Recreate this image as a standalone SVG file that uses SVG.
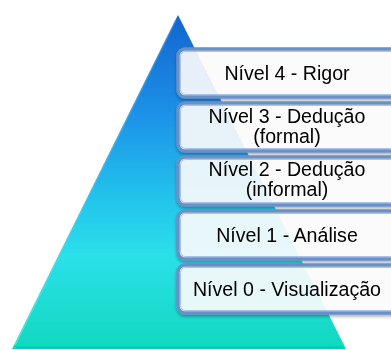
<svg xmlns="http://www.w3.org/2000/svg" width="391" height="350" viewBox="0 0 391 350">
  <defs>
    <linearGradient id="triGrad" x1="0" y1="15" x2="0" y2="349" gradientUnits="userSpaceOnUse">
      <stop offset="0" stop-color="#1464cf"/>
      <stop offset="0.3" stop-color="#1c92e8"/>
      <stop offset="0.55" stop-color="#22c4ec"/>
      <stop offset="0.72" stop-color="#2ae0ea"/>
      <stop offset="1" stop-color="#12d8be"/>
    </linearGradient>
    <linearGradient id="edgeGrad" x1="0" y1="15" x2="0" y2="349" gradientUnits="userSpaceOnUse">
      <stop offset="0" stop-color="#3b8fe6"/>
      <stop offset="1" stop-color="#5ff0dd"/>
    </linearGradient>
    <filter id="shadow" x="-10%" y="-20%" width="130%" height="150%">
      <feGaussianBlur in="SourceAlpha" stdDeviation="1.5"/>
      <feOffset dx="0" dy="1.5" result="b"/>
      <feComponentTransfer><feFuncA type="linear" slope="0.3"/></feComponentTransfer>
      <feMerge><feMergeNode/><feMergeNode in="SourceGraphic"/></feMerge>
    </filter>
  </defs>
  <style>
    .box { fill: #ffffff; fill-opacity: 0.88; stroke: #6a90c6; stroke-width: 3.5; }
    .inner { fill: none; stroke: #a9c2e6; stroke-width: 1; }
    .lbl { font-family: "Liberation Sans", Arial, sans-serif; font-size: 19.6px; fill: #000000; text-anchor: middle; }
  </style>
  <g id="pyramid">
    <polygon points="178,15 12,349 346,349" fill="url(#triGrad)"/>
    <polyline points="176,20 15,345" fill="none" stroke="url(#edgeGrad)" stroke-width="1.5" opacity="0.7"/>
    <line x1="16" y1="347.5" x2="344" y2="347.5" stroke="#0fb9a5" stroke-width="2" opacity="0.6"/>
  </g>
  <g id="level4" filter="url(#shadow)">
    <rect class="box" x="178" y="49" width="220" height="48" rx="7"/>
    <rect class="inner" x="180.5" y="51.5" width="215" height="43" rx="5"/>
    <text class="lbl" x="287" y="80">Nível 4 - Rigor</text>
  </g>
  <g id="level3" filter="url(#shadow)">
    <rect class="box" x="178" y="103" width="220" height="48" rx="7"/>
    <rect class="inner" x="180.5" y="105.5" width="215" height="43" rx="5"/>
    <text class="lbl" x="287" y="123">Nível 3 - Dedução</text>
    <text class="lbl" x="287" y="143">(formal)</text>
  </g>
  <g id="level2" filter="url(#shadow)">
    <rect class="box" x="178" y="157" width="220" height="48" rx="7"/>
    <rect class="inner" x="180.5" y="159.5" width="215" height="43" rx="5"/>
    <text class="lbl" x="287" y="176">Nível 2 - Dedução</text>
    <text class="lbl" x="287" y="196">(informal)</text>
  </g>
  <g id="level1" filter="url(#shadow)">
    <rect class="box" x="178" y="211" width="220" height="48" rx="7"/>
    <rect class="inner" x="180.5" y="213.5" width="215" height="43" rx="5"/>
    <text class="lbl" x="287" y="242">Nível 1 - Análise</text>
  </g>
  <g id="level0" filter="url(#shadow)">
    <rect class="box" x="178" y="265" width="220" height="48" rx="7"/>
    <rect class="inner" x="180.5" y="267.5" width="215" height="43" rx="5"/>
    <text class="lbl" x="287" y="296">Nível 0 - Visualização</text>
  </g>
  <g id="connectors"/>
</svg>
